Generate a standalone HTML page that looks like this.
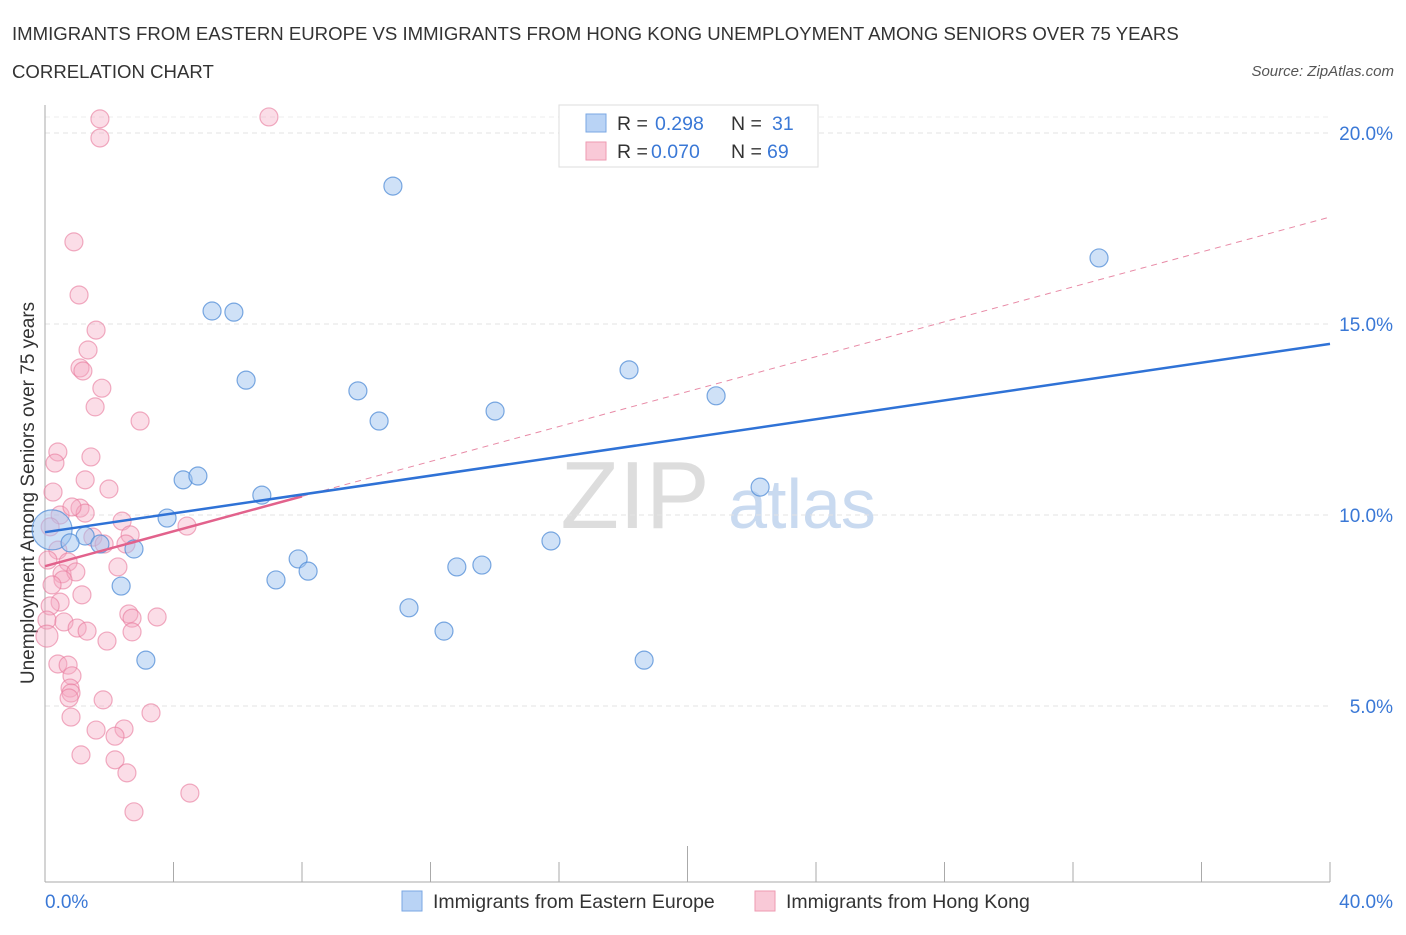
<!DOCTYPE html>
<html><head><meta charset="utf-8"><style>
body{margin:0;background:#fff;font-family:"Liberation Sans",sans-serif;}
svg text{font-family:"Liberation Sans",sans-serif;}
</style></head><body>
<svg width="1406" height="930" id="chart">
<text x="12" y="40" font-size="18.6" fill="#333">IMMIGRANTS FROM EASTERN EUROPE VS IMMIGRANTS FROM HONG KONG UNEMPLOYMENT AMONG SENIORS OVER 75 YEARS</text>
<text x="12" y="78" font-size="18.6" fill="#333">CORRELATION CHART</text>
<text x="1394" y="76" font-size="15" fill="#555" font-style="italic" text-anchor="end">Source: ZipAtlas.com</text>
<text x="635" y="528" font-size="96" fill="#ddd" font-family="Liberation Serif" text-anchor="middle">ZIP</text>
<text x="802" y="528" font-size="70" fill="#c9daf0" text-anchor="middle">atlas</text>
<text transform="translate(34,493) rotate(-90)" font-size="19" fill="#333" text-anchor="middle">Unemployment Among Seniors over 75 years</text>
<g id="grid"></g><g id="marks"></g>
<g>
<rect x="559" y="105" width="259" height="62" fill="#fff" stroke="#ddd"/>
<rect x="586" y="114" width="20" height="18" fill="#b9d3f5" stroke="#7aa7e3"/>
<text x="617" y="130" font-size="19.5" fill="#333">R =</text>
<text x="655" y="130" font-size="19.5" fill="#3a78d6">0.298</text>
<text x="731" y="130" font-size="19.5" fill="#333">N =</text>
<text x="772" y="130" font-size="19.5" fill="#3a78d6">31</text>
<rect x="586" y="142" width="20" height="18" fill="#f9c9d7" stroke="#ee9ab2"/>
<text x="617" y="158" font-size="19.5" fill="#333">R =</text>
<text x="651" y="158" font-size="19.5" fill="#3a78d6">0.070</text>
<text x="731" y="158" font-size="19.5" fill="#333">N =</text>
<text x="767" y="158" font-size="19.5" fill="#3a78d6">69</text>
</g>
<g>
<rect x="402" y="891" width="20" height="20" fill="#b9d3f5" stroke="#7aa7e3"/>
<text x="433" y="908" font-size="19.5" fill="#333">Immigrants from Eastern Europe</text>
<rect x="755" y="891" width="20" height="20" fill="#f9c9d7" stroke="#ee9ab2"/>
<text x="786" y="908" font-size="19.5" fill="#333">Immigrants from Hong Kong</text>
</g>
</svg>
<script>
const yTicks=[5,10,15,20];
const yTickLabels=["5.0%","10.0%","15.0%","20.0%"];
const xTickLabels=["0.0%","40.0%"];
const blueX=[10.83,32.81,5.20,5.88,6.26,9.74,18.18,14.01,20.89,10.40,4.30,4.76,6.75,22.26,3.80,0.22,1.25,1.71,2.77,15.75,7.88,8.19,7.19,12.82,13.60,2.37,11.33,12.42,18.65,3.14,0.78];
const blueY=[18.61,16.73,15.34,15.31,13.53,13.25,13.80,12.72,13.12,12.46,10.92,11.02,10.52,10.73,9.92,9.61,9.45,9.24,9.11,9.32,8.85,8.53,8.30,8.64,8.69,8.14,7.57,6.96,6.20,6.20,9.27];
const pinkX=[1.71,1.71,0.90,1.06,1.59,1.34,1.09,1.18,1.77,1.56,2.96,0.40,0.31,1.43,1.25,0.25,1.99,1.09,0.47,1.25,2.40,0.84,4.42,1.49,2.65,0.40,1.84,2.52,0.72,0.53,0.96,2.27,0.56,0.22,1.15,0.47,0.16,0.06,0.59,1.00,1.31,2.61,2.71,3.49,2.71,1.93,0.06,0.40,0.72,0.84,0.78,0.81,0.75,1.81,0.81,3.30,1.59,2.46,2.18,1.12,2.18,2.55,4.51,2.77,6.97,0.16,0.09];
const pinkY=[20.37,19.87,17.15,15.76,14.84,14.32,13.85,13.77,13.32,12.83,12.46,11.65,11.36,11.52,10.92,10.60,10.68,10.18,10.00,10.05,9.84,10.21,9.71,9.42,9.48,9.08,9.24,9.24,8.77,8.46,8.51,8.64,8.30,8.17,7.91,7.72,7.62,7.25,7.20,7.04,6.96,7.41,7.30,7.33,6.94,6.70,6.83,6.10,6.07,5.79,5.47,5.34,5.21,5.16,4.71,4.82,4.37,4.40,4.21,3.72,3.59,3.25,2.72,2.23,20.42,9.69,8.82];
const blueTrend=[9.55,14.48];
const pinkTrend=[8.66,17.80];
const X0=45,X1=1330,Y0=897,PY=38.2;
const sx=v=>X0+v/40*(X1-X0), sy=v=>Y0-v*PY;
const NS="http://www.w3.org/2000/svg";
function mk(tag,attrs,parent){const e=document.createElementNS(NS,tag);for(const k in attrs)e.setAttribute(k,attrs[k]);parent.appendChild(e);return e;}
const grid=document.getElementById('grid'),marks=document.getElementById('marks');
yTicks.forEach((t,i)=>{
 const l=mk('line',{x1:45,x2:1330,y1:sy(t),y2:sy(t),stroke:'#e3e3e3','stroke-dasharray':'5,4'},grid);
 
 
 const tx=mk('text',{x:1393,y:sy(t)+7,'font-size':19,fill:'#3a78d6','text-anchor':'end'},grid);
 tx.textContent=yTickLabels[i];
 
 
});
const tg=mk('line',{x1:45,x2:1330,y1:117,y2:117,stroke:'#ececec','stroke-dasharray':'5,4'},grid);


const ya=mk('line',{x1:45,x2:45,y1:105,y2:882,stroke:'#aaa'},grid);


const xa=mk('line',{x1:45,x2:1330,y1:882,y2:882,stroke:'#aaa'},grid);


for(let i=0;i<=10;i++){const x=sx(i*4);const tk=mk('line',{x1:x,x2:x,y1:882,y2:i==5?846:862,stroke:'#aaa'},grid);
 
 }
xTickLabels.forEach((s,i)=>{const t=mk('text',{x:i?1393:45,y:908,'font-size':19,fill:'#3a78d6','text-anchor':i?'end':'start'},grid);t.textContent=s;
 
 });
pinkX.forEach((x,i)=>{const big=(i==46);const c=mk('circle',{cx:sx(x),cy:sy(pinkY[i]),r:big?11:9,fill:'rgba(246,170,194,0.4)',stroke:'rgba(232,120,155,0.6)','stroke-width':1.2},marks);
 
 });
blueX.forEach((x,i)=>{const big=(i==15);const c=mk('circle',{cx:sx(x),cy:sy(blueY[i]),r:big?20:9,fill:'rgba(160,196,240,0.5)',stroke:'rgba(80,140,215,0.75)','stroke-width':1.2},marks);
 
 });
const pd=mk('line',{x1:sx(8),y1:sy(pinkTrend[0]+(pinkTrend[1]-pinkTrend[0])*0.2),x2:sx(40),y2:sy(pinkTrend[1]),stroke:'#e88aa6','stroke-dasharray':'6,5','stroke-width':1},marks);


const ps=mk('line',{x1:sx(0),y1:sy(pinkTrend[0]),x2:sx(8),y2:sy(pinkTrend[0]+(pinkTrend[1]-pinkTrend[0])*0.2),stroke:'#e2628c','stroke-width':2.5},marks);


const bl=mk('line',{x1:sx(0),y1:sy(blueTrend[0]),x2:sx(40),y2:sy(blueTrend[1]),stroke:'#2f72d6','stroke-width':2.5},marks);


</script>
</body></html>
